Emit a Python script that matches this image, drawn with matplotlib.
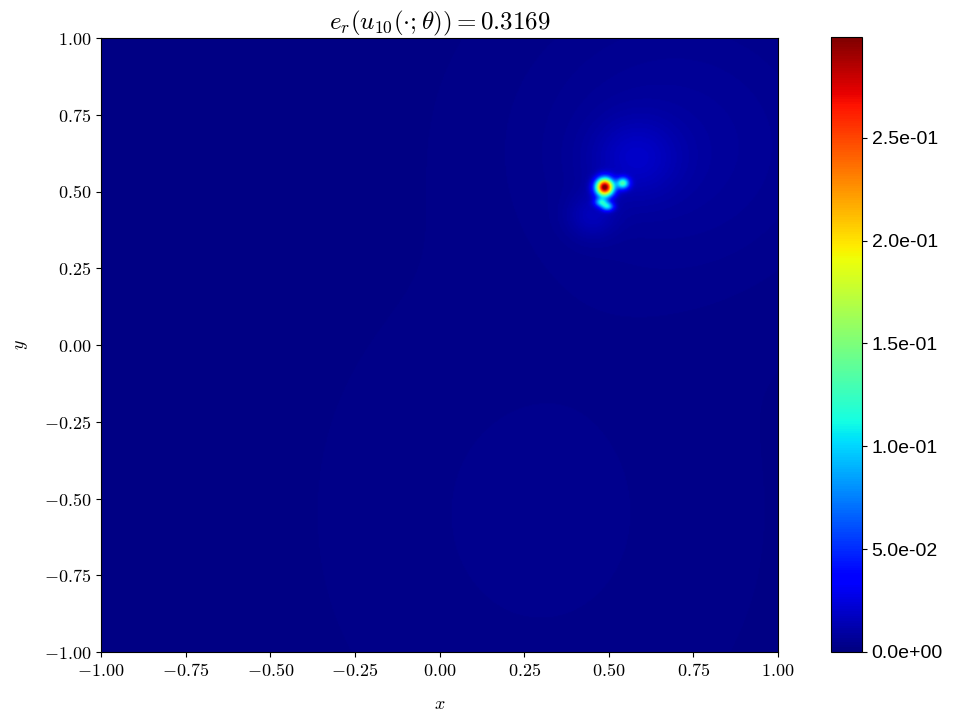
import numpy as np
import matplotlib
matplotlib.use('Agg')
import matplotlib.pyplot as plt
from matplotlib.ticker import FuncFormatter

plt.rcParams['mathtext.fontset'] = 'cm'
plt.rcParams['font.family'] = 'serif'
plt.rcParams['font.serif'] = ['DejaVu Serif']

# error field: a few bumps (centre, height, spread)
blob_x = [0.489, 0.543, 0.478, 0.497, 0.58, 0.45, 0.70, 0.30]
blob_y = [0.515, 0.528, 0.466, 0.452, 0.61, 0.42, 0.65, -0.55]
blob_amp = [0.295, 0.115, 0.080, 0.085, 0.012, 0.010, 0.006, 0.002]
blob_sx = [0.018, 0.013, 0.013, 0.013, 0.09, 0.05, 0.30, 0.35]
blob_sy = [0.020, 0.013, 0.010, 0.010, 0.09, 0.05, 0.30, 0.45]
base_err = 0.002
err_max = 0.299

cbar_ticks = [0.0, 0.05, 0.10, 0.15, 0.20, 0.25]
title = r'$e_r(u_{10}(\cdot;\theta)) = 0.3169$'

n = 600
xs = np.linspace(-1, 1, n)
ys = np.linspace(-1, 1, n)
X, Y = np.meshgrid(xs, ys)
Z = np.full_like(X, base_err)
for bx, by, a, sx, sy in zip(blob_x, blob_y, blob_amp, blob_sx, blob_sy):
    Z += a * np.exp(-0.5 * (((X - bx) / sx) ** 2 + ((Y - by) / sy) ** 2))

fig = plt.figure(figsize=(9.6, 7.2), dpi=100)
ax = fig.add_axes([101/960, 1 - 652/720, 677/960, 614/720])
cax = fig.add_axes([831/960, 1 - 652/720, 31/960, 615/720])

im = ax.imshow(Z, origin='lower', extent=[-1, 1, -1, 1], cmap='jet',
               vmin=0, vmax=err_max, aspect='auto', interpolation='bilinear')
ax.set_xlim(-1, 1)
ax.set_ylim(-1, 1)
ticks = np.linspace(-1, 1, 9)
ax.set_xticks(ticks)
ax.set_yticks(ticks)
fmt = FuncFormatter(lambda v, p: r'$%.2f$' % v)
ax.xaxis.set_major_formatter(fmt)
ax.yaxis.set_major_formatter(fmt)
ax.tick_params(labelsize=13)
ax.set_xlabel(r'$x$', fontsize=13, labelpad=11)
ax.set_ylabel(r'$y$', fontsize=13, labelpad=10)
ax.set_title(title, fontsize=18)

cb = fig.colorbar(im, cax=cax, ticks=cbar_ticks)
cb.ax.yaxis.set_major_formatter(FuncFormatter(lambda v, p: '%.1e' % v))
for lab in cb.ax.get_yticklabels():
    lab.set_family('Liberation Sans')
    lab.set_fontsize(14)

plt.savefig('out.png', dpi=100)
